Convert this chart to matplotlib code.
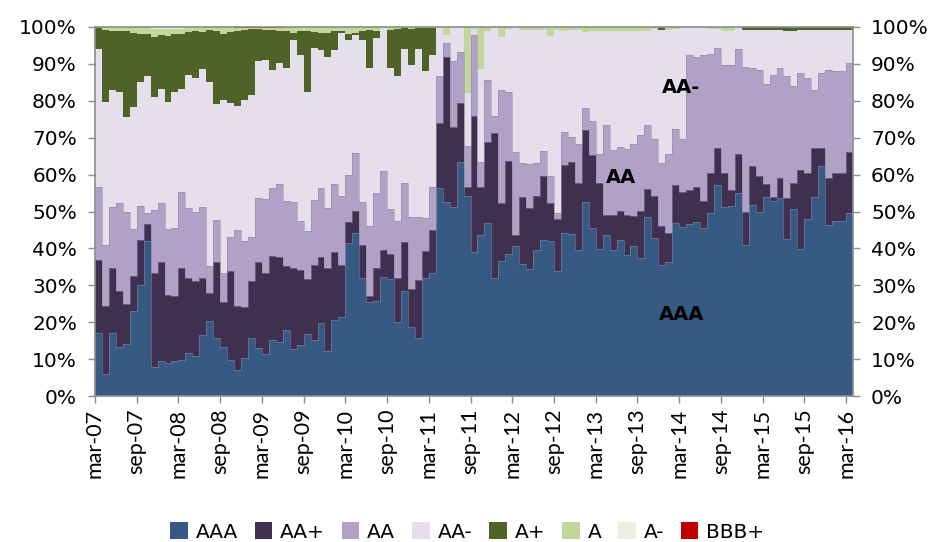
import matplotlib
matplotlib.use("Agg")
import matplotlib.pyplot as plt
from matplotlib.patches import Patch
import numpy as np

plt.rcParams['font.family'] = ['DejaVu Sans']

# monthly, mar-07 .. mar-16 (109 months); cumulative share tops in %
aaa = [17.1, 5.9, 17.1, 13.3, 14.2, 23.1, 30.2, 42.0, 7.9, 9.5, 9.0, 9.5, 9.7, 11.7, 10.8, 16.6,
       20.4, 15.6, 13.3, 9.7, 7.0, 10.4, 15.6, 12.9, 11.3, 15.3, 14.7, 18.0, 12.7, 13.8, 16.7, 15.1,
       19.9, 12.1, 20.5, 21.4, 41.4, 44.1, 32.1, 25.5, 25.7, 32.3, 31.7, 20.1, 28.5, 18.7, 15.6, 31.9,
       33.2, 56.5, 52.5, 51.3, 63.3, 54.2, 38.9, 43.6, 46.8, 32.0, 36.7, 38.6, 40.6, 35.9, 34.3, 39.7,
       42.3, 42.0, 33.9, 44.1, 43.8, 39.7, 52.7, 45.4, 39.8, 43.6, 39.7, 42.4, 38.2, 40.6, 37.3, 48.4,
       42.9, 35.5, 36.2, 47.0, 45.7, 46.6, 47.2, 45.4, 49.5, 57.2, 51.3, 51.5, 54.9, 40.9, 51.8, 50.0,
       53.8, 52.9, 53.6, 42.5, 50.6, 39.8, 48.0, 54.0, 62.4, 46.3, 47.4, 47.4, 49.5]
upto_aa_plus = [36.8, 24.4, 34.6, 28.5, 24.9, 32.5, 42.3, 46.6, 33.4, 36.4, 27.3, 27.1, 34.6, 32.1, 31.2, 31.9,
                27.8, 36.4, 25.5, 33.9, 24.3, 24.0, 31.1, 36.2, 33.4, 37.9, 37.6, 35.2, 34.8, 34.1, 31.6, 35.5,
                37.6, 34.8, 38.9, 35.5, 47.2, 50.2, 40.9, 27.1, 34.8, 39.7, 38.5, 31.9, 41.8, 29.1, 31.4, 39.3,
                45.0, 73.9, 91.8, 72.8, 79.5, 56.7, 75.9, 56.7, 68.7, 71.2, 52.4, 63.8, 43.6, 54.0, 51.0, 54.2,
                59.7, 52.2, 47.9, 62.6, 63.3, 57.6, 72.1, 65.2, 57.6, 49.0, 49.0, 50.2, 49.0, 48.8, 50.2, 56.1,
                54.3, 46.2, 44.1, 57.2, 55.4, 55.7, 56.6, 52.9, 60.5, 67.3, 60.4, 55.8, 65.6, 50.0, 62.4, 59.7,
                57.5, 54.0, 59.0, 53.6, 57.6, 61.3, 60.4, 67.1, 67.1, 59.0, 60.5, 60.5, 66.2]
upto_aa = [56.6, 40.9, 51.1, 52.4, 50.0, 45.2, 51.5, 49.7, 50.4, 52.4, 45.2, 45.6, 55.2, 51.0, 50.0, 51.1,
           35.2, 47.7, 33.2, 43.2, 45.0, 42.1, 43.2, 53.6, 53.4, 56.3, 57.5, 52.9, 52.7, 47.5, 44.8, 53.1,
           56.3, 50.9, 57.5, 54.3, 59.9, 65.8, 52.7, 46.2, 55.1, 61.1, 50.6, 47.5, 57.6, 48.4, 48.6, 48.3,
           56.7, 86.8, 95.7, 90.7, 93.2, 67.7, 97.9, 63.5, 85.7, 75.9, 82.8, 82.3, 66.0, 63.1, 62.9, 63.1,
           66.3, 59.7, 49.5, 71.5, 70.3, 68.3, 78.0, 74.6, 65.5, 73.5, 66.7, 67.6, 67.0, 68.3, 70.8, 73.5,
           69.6, 63.1, 65.6, 72.3, 69.6, 92.3, 92.0, 92.5, 92.6, 94.3, 89.8, 89.6, 94.1, 89.1, 88.8, 88.4,
           84.5, 87.1, 88.8, 86.6, 83.9, 87.5, 86.2, 82.8, 87.5, 88.4, 88.1, 88.1, 90.2]
upto_aa_minus = [94.1, 79.8, 82.8, 82.3, 75.7, 78.3, 85.1, 86.8, 81.0, 83.2, 79.8, 82.4, 83.2, 86.9, 86.2, 88.7,
                 85.2, 79.2, 80.3, 79.4, 78.5, 80.3, 81.6, 90.9, 91.1, 88.4, 90.2, 88.9, 96.6, 92.5, 82.3, 94.3,
                 93.7, 91.8, 93.7, 98.4, 96.6, 97.9, 96.6, 88.9, 97.0, 99.7, 88.9, 86.6, 94.0, 89.8, 94.0, 88.2,
                 92.4, 99.7, 97.8, 99.7, 99.7, 82.1, 99.5, 88.6, 99.0, 99.7, 97.3, 99.5, 99.7, 99.1, 99.3, 99.3,
                 99.3, 97.6, 99.2, 99.0, 99.2, 99.2, 98.7, 98.8, 99.0, 99.0, 99.0, 98.8, 99.0, 98.8, 98.8, 99.0,
                 99.5, 99.3, 99.3, 99.5, 99.6, 99.6, 99.6, 99.7, 99.5, 99.5, 98.8, 98.8, 99.7, 99.2, 99.2, 99.1,
                 99.2, 99.2, 99.1, 99.0, 98.9, 99.1, 99.2, 99.2, 99.2, 99.1, 99.2, 99.2, 99.3]
upto_a_plus = [99.6, 99.3, 98.8, 99.0, 98.8, 98.5, 98.0, 98.0, 97.4, 97.8, 97.6, 98.0, 98.2, 98.6, 98.8, 98.6,
               99.3, 99.0, 98.2, 98.6, 99.0, 99.2, 99.4, 99.4, 99.3, 99.2, 99.0, 99.0, 98.5, 99.0, 98.8, 98.6,
               98.3, 98.3, 98.8, 99.0, 98.0, 98.5, 98.8, 99.3, 99.0, 99.7, 99.3, 99.5, 99.6, 99.5, 99.6, 99.6,
               99.6, 99.7, 97.8, 99.7, 99.7, 82.1, 99.5, 88.6, 99.0, 99.7, 97.3, 99.5, 99.7, 99.1, 99.3, 99.3,
               99.3, 97.6, 99.2, 99.0, 99.2, 99.2, 98.7, 98.8, 99.0, 99.0, 99.0, 98.8, 99.0, 98.8, 98.8, 99.0,
               99.5, 99.7, 99.3, 99.5, 99.6, 99.6, 99.6, 99.7, 99.5, 99.5, 98.8, 98.8, 99.7, 99.9, 99.9, 99.9,
               99.9, 99.9, 99.9, 99.9, 99.6, 99.9, 99.9, 99.9, 99.9, 99.9, 99.9, 99.9, 99.9]
upto_a = [100, 100, 100, 100, 100, 100, 100, 100, 99.5, 99.4, 99.4, 99.5, 99.5, 99.6, 100, 100,
          100, 100, 100, 100, 99.7, 99.7, 99.7, 99.7, 99.7, 99.7, 99.7, 100, 100, 100, 100, 100,
          100, 100, 100, 100, 100, 100, 100, 100, 100, 100, 100, 100, 100, 100, 100, 100,
          100, 100, 100, 100, 100, 100, 100, 100, 100, 100, 100, 100, 100, 100, 100, 100,
          100, 100, 100, 100, 100, 100, 100, 100, 100, 100, 100, 100, 100, 100, 100, 100,
          100, 100, 100, 100, 100, 100, 100, 100, 100, 100, 100, 100, 100, 100, 100, 100,
          100, 100, 100, 100, 100, 100, 100, 100, 100, 100, 100, 100, 100]
upto_a_minus = [100] * 20 + [99.7] * 7 + [100] * 82

labels = ["AAA", "AA+", "AA", "AA-", "A+", "A", "A-", "BBB+"]
colors = ["#365A84", "#3F3050", "#B1A1C7", "#E5DFEC", "#4F6228", "#C3D69B", "#EBF1DE", "#C00000"]
tick_labels = ["mar-07", "sep-07", "mar-08", "sep-08", "mar-09", "sep-09", "mar-10", "sep-10",
               "mar-11", "sep-11", "mar-12", "sep-12", "mar-13", "sep-13", "mar-14", "sep-14",
               "mar-15", "sep-15", "mar-16"]

n = len(aaa)
x = np.arange(n + 1)
levels = [np.zeros(n), aaa, upto_aa_plus, upto_aa, upto_aa_minus, upto_a_plus, upto_a,
          upto_a_minus, np.full(n, 100.0)]
levels = [np.append(np.asarray(l, float), l[-1]) for l in levels]

fig = plt.figure(figsize=(9.35, 5.42), dpi=100)
ax = fig.add_axes([95 / 935, 1 - 396 / 542, 758 / 935, 369 / 542])

for i in range(8):
    ax.fill_between(x, levels[i], levels[i + 1], step="post", color=colors[i], lw=0)
for i in range(1, 4):
    ax.step(x, levels[i], where="post", color="#8c8aa6", lw=0.5, alpha=0.7)

ax.set_xlim(0, n)
ax.set_ylim(0, 100)
ax.set_yticks(np.arange(0, 101, 10))
ax.set_yticklabels([f"{v}%" for v in range(0, 101, 10)])
ax.set_xticks(np.arange(0, n, 6))
ax.set_xticklabels(tick_labels, rotation=90, family=["Lato", "DejaVu Sans"], fontsize=15.5)
ax.tick_params(axis="both", color="#8c8c8c", length=5, width=1)
ax.tick_params(axis="y", right=True, labelright=True, pad=8, labelsize=14.5)
ax.tick_params(axis="x", pad=4)
for s in ax.spines.values():
    s.set_color("#8c8c8c")
    s.set_linewidth(1.2)

ax.text(84.2, 83.5, "AA-", fontsize=14, fontweight="bold", ha="center", va="center")
ax.text(75.6, 59.1, "AA", fontsize=14, fontweight="bold", ha="center", va="center")
ax.text(84.3, 22.2, "AAA", fontsize=14, fontweight="bold", ha="center", va="center")

handles = [Patch(facecolor=c, edgecolor="none") for c in colors]
fig.legend(handles, labels, loc="center", bbox_to_anchor=(0.5, 1 - 532 / 542), ncol=8,
           frameon=False, fontsize=14.5, handlelength=0.85, handleheight=0.85,
           handletextpad=0.4, columnspacing=0.85, borderaxespad=0, borderpad=0)

fig.savefig("out.png", dpi=100)
